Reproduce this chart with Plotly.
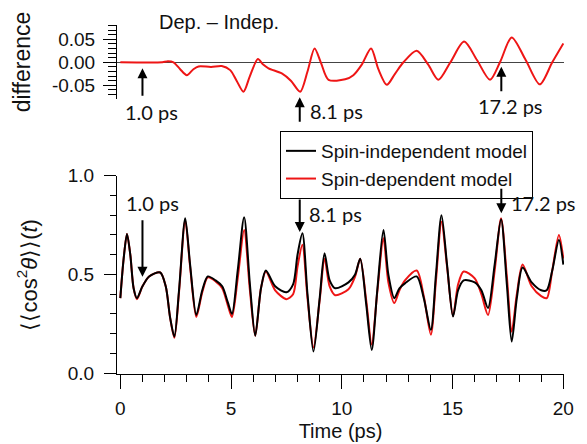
import plotly.graph_objects as go

# ---------------- data ----------------
t_model = [0.0, 0.15, 0.30, 0.45, 0.6, 0.75, 1.0, 1.3, 1.8, 2.05, 2.25, 2.44, 2.65, 2.93,
           3.15, 3.43, 3.7, 3.95, 4.3, 4.6, 4.85, 5.04, 5.3, 5.59, 5.85, 6.09, 6.35, 6.57,
           6.99, 7.5, 7.8, 8.0, 8.22, 8.45, 8.72, 9.0, 9.22, 9.45, 9.7, 10.3, 10.6, 10.83,
           11.1, 11.35, 11.6, 11.88, 12.1, 12.37, 12.6, 12.85, 13.38, 13.7, 14.02, 14.25,
           14.5, 14.75, 15.02, 15.25, 15.5, 16.0, 16.3, 16.6, 16.9, 17.19, 17.45, 17.67,
           17.9, 18.16, 18.57, 19.0, 19.25, 19.5, 19.8, 20.0]

spin_independent = [0.38, 0.58, 0.705, 0.60, 0.43, 0.38, 0.44, 0.49, 0.51, 0.44, 0.28, 0.185,
                    0.42, 0.785, 0.55, 0.295, 0.42, 0.49, 0.47, 0.44, 0.36, 0.30, 0.52, 0.79,
                    0.45, 0.19, 0.43, 0.52, 0.44, 0.41, 0.45, 0.60, 0.708, 0.40, 0.11, 0.38,
                    0.607, 0.47, 0.43, 0.46, 0.50, 0.58, 0.35, 0.118, 0.42, 0.725, 0.50, 0.38,
                    0.43, 0.455, 0.49, 0.38, 0.22, 0.50, 0.80, 0.55, 0.287, 0.42, 0.47, 0.46,
                    0.42, 0.33, 0.55, 0.78, 0.45, 0.16, 0.38, 0.535, 0.46, 0.42, 0.42, 0.52,
                    0.675, 0.55]

spin_dependent = [0.38, 0.58, 0.705, 0.60, 0.43, 0.375, 0.44, 0.49, 0.51, 0.44, 0.28, 0.18,
                  0.41, 0.775, 0.54, 0.285, 0.41, 0.485, 0.465, 0.43, 0.345, 0.285, 0.48, 0.725,
                  0.42, 0.19, 0.43, 0.515, 0.42, 0.375, 0.40, 0.54, 0.65, 0.38, 0.13, 0.37,
                  0.58, 0.44, 0.395, 0.425, 0.49, 0.58, 0.37, 0.145, 0.41, 0.683, 0.46, 0.355,
                  0.42, 0.47, 0.52, 0.39, 0.195, 0.47, 0.767, 0.54, 0.29, 0.45, 0.515, 0.48,
                  0.40, 0.295, 0.52, 0.785, 0.49, 0.21, 0.40, 0.55, 0.44, 0.39, 0.38, 0.52,
                  0.70, 0.58]

t_diff = [0.0, 1.9, 2.1, 2.4, 2.7, 3.0, 3.3, 3.53, 4.1, 4.58, 4.96, 5.25, 5.56, 5.85, 6.21,
          6.45, 6.69, 7.29, 7.7, 8.12, 8.45, 8.77, 9.05, 9.4, 10.15, 10.52, 10.9, 11.32,
          11.65, 12.03, 12.4, 12.78, 13.38, 13.9, 14.36, 14.9, 15.52, 16.1, 16.69, 17.14,
          17.67, 18.3, 18.94, 19.5, 20.0]
difference = [0.0, 0.0, 0.002, 0.0, -0.015, -0.028, -0.015, -0.009, -0.01, -0.008, -0.017,
              -0.04, -0.064, -0.03, 0.007, -0.005, -0.013, -0.024, -0.04, -0.064, -0.02,
              0.030, 0.0, -0.038, -0.037, -0.028, -0.005, 0.030, -0.015, -0.049, -0.025,
              0.0, 0.025, -0.005, -0.038, 0.0, 0.045, 0.005, -0.038, 0.0, 0.054, 0.005,
              -0.048, 0.0, 0.041]

marker_times = [1.0, 8.1, 17.2]
marker_labels = ["1.0 ps", "8.1 ps", "17.2 ps"]

x_ticks = [0, 5, 10, 15, 20]
y_ticks = [0.0, 0.5, 1.0]
diff_ticks = [-0.05, 0.0, 0.05]
diff_ticktext = ["-0.05", "0.00", "0.05"]

# ---------------- figure ----------------
FONT = "Liberation Sans, Arial, sans-serif"
ANN_FONT = "Lato, Liberation Sans, sans-serif"
RED = "#ee1515"
OFF = 8  # page body margin of the html page
W, H = 587 - OFF, 444 - OFF
ML, MR, MT, MB = 117 - OFF, 23, 25 - OFF, 70
PW, PH = W - ML - MR, H - MT - MB


def px(xpix):
    return (xpix - OFF - ML) / PW


def py(ypix):
    return (H - MB - (ypix - OFF)) / PH


fig = go.Figure()

fig.add_trace(go.Scatter(x=t_model, y=spin_dependent, mode="lines", name="Spin-dependent model",
                         line=dict(color=RED, width=2, shape="spline", smoothing=0.8),
                         xaxis="x", yaxis="y"))
fig.add_trace(go.Scatter(x=t_model, y=spin_independent, mode="lines", name="Spin-independent model",
                         line=dict(color="black", width=2, shape="spline", smoothing=0.8),
                         xaxis="x", yaxis="y"))
fig.add_trace(go.Scatter(x=t_diff, y=difference, mode="lines", showlegend=False,
                         line=dict(color=RED, width=2, shape="spline", smoothing=0.8),
                         xaxis="x2", yaxis="y2"))

xr = [-0.15, 20.03]
axis_common = dict(showline=True, linecolor="black", linewidth=1, ticks="outside",
                   tickcolor="black", showgrid=False, zeroline=False, automargin=False,
                   tickfont=dict(family=FONT, size=19, color="#111"))

fig.update_layout(
    width=W, height=H,
    margin=dict(l=ML, r=MR, t=MT, b=MB, autoexpand=False),
    paper_bgcolor="white", plot_bgcolor="white",
    font=dict(family=FONT, color="#111"),
    showlegend=True,
    legend=dict(x=px(280), y=py(131), xanchor="left", yanchor="top",
                bordercolor="black", borderwidth=1, bgcolor="white",
                font=dict(family=FONT, size=19, color="#111"),
                traceorder="reversed", itemwidth=30, tracegroupgap=0),
    xaxis=dict(domain=[0, 1], range=xr, anchor="y", tickvals=x_ticks, ticklen=14,
               minor=dict(ticks="outside", dtick=1, ticklen=7, tickcolor="black"),
               ticklabelstandoff=3,
               title=dict(text="Time (ps)", font=dict(family=FONT, size=20, color="#111"),
                          standoff=6),
               **axis_common),
    yaxis=dict(domain=[0, py(175.7)], range=[-0.004, 1.0], anchor="x", tickvals=y_ticks,
               tickformat=".1f", ticklen=12,
               minor=dict(ticks="outside", dtick=0.1, ticklen=6, tickcolor="black"),
               ticklabelstandoff=6,
               title=dict(text="⟨⟨cos<sup>2</sup><i>θ</i>⟩⟩(<i>t</i>)",
                          font=dict(family=FONT, size=22, color="#111"), standoff=24),
               **axis_common),
    xaxis2=dict(domain=[0, 1], range=xr, anchor="y2", visible=False),
    yaxis2=dict(domain=[py(99), 1], range=[-0.0798, 0.0811], anchor="x2",
                tickvals=diff_ticks, ticktext=diff_ticktext, ticklen=13,
                minor=dict(ticks="outside", dtick=0.01, ticklen=8, tickcolor="black"),
                ticklabelstandoff=4, automargin=False,
                title=dict(text="difference", font=dict(family=FONT, size=23, color="#111"),
                           standoff=14),
                showline=True, linecolor="black", linewidth=1, ticks="outside",
                tickcolor="black", showgrid=False,
                zeroline=True, zerolinecolor="#444", zerolinewidth=1,
                tickfont=dict(family=FONT, size=19, color="#111")),
)

# "Dep. - Indep." label
fig.add_annotation(text="Dep. – Indep.", xref="paper", yref="paper",
                   x=px(157), y=py(22.5), xanchor="left", yanchor="middle",
                   showarrow=False, font=dict(family=FONT, size=20, color="#111"))

# Arrows in the difference panel (pointing up)
top_tip = [-0.013, -0.076, -0.0095]
top_len = [29, 26, 26]
for t, yv, ln in zip(marker_times, top_tip, top_len):
    fig.add_annotation(x=t, y=yv, xref="x2", yref="y2", text="", showarrow=True,
                       ax=0, ay=ln, arrowhead=2, arrowsize=1, arrowwidth=2,
                       arrowcolor="black")

# Arrows in the main panel (pointing down)
bot_tip = [0.489, 0.715, 0.81]
bot_len = [-58, -34, -26]
for t, yv, ln in zip(marker_times, bot_tip, bot_len):
    fig.add_annotation(x=t, y=yv, xref="x", yref="y", text="", showarrow=True,
                       ax=0, ay=ln, arrowhead=2, arrowsize=1, arrowwidth=2,
                       arrowcolor="black")

# labels (paper coordinates)
label_pos = [
    (marker_labels[0], 151, 112, "center"),
    (marker_labels[1], 308, 111, "left"),
    (marker_labels[2], 510, 106, "center"),
    (marker_labels[0], 152, 203, "center"),
    (marker_labels[1], 307, 214, "left"),
    (marker_labels[2], 509, 203, "left"),
]
for txt, xp, yp, anc in label_pos:
    fig.add_annotation(x=px(xp), y=py(yp), xref="paper", yref="paper", text=txt,
                       showarrow=False, xanchor=anc, yanchor="middle",
                       font=dict(family=ANN_FONT, size=20, color="#111"))

fig.write_html("out.html")
